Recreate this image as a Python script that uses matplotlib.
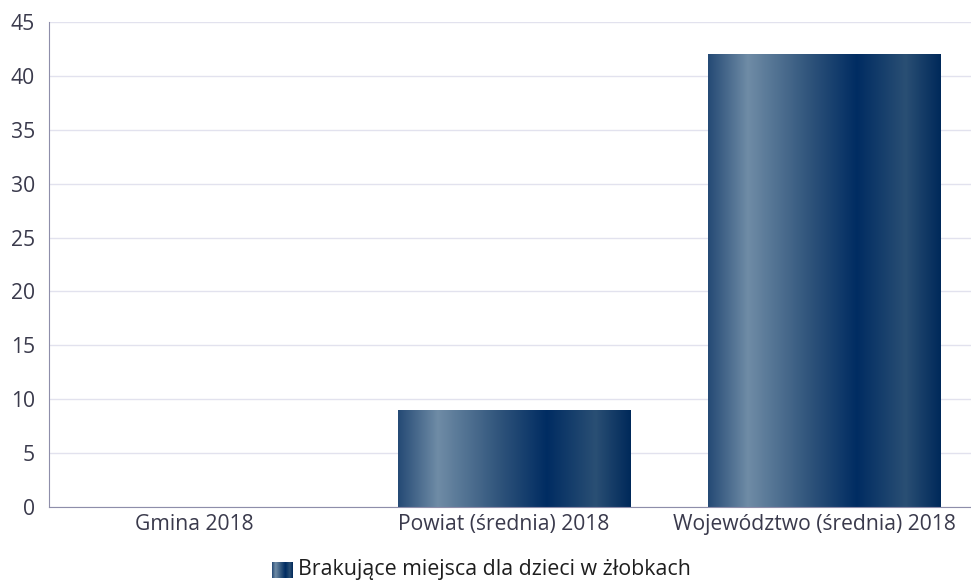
import numpy as np
import matplotlib.pyplot as plt
from matplotlib.colors import LinearSegmentedColormap

categories = ['Gmina 2018', 'Powiat (średnia) 2018', 'Województwo (średnia) 2018']
values = [0, 9, 42]
series_name = 'Brakujące miejsca dla dzieci w żłobkach'
yticks = [0, 5, 10, 15, 20, 25, 30, 35, 40, 45]

plt.rcParams['font.family'] = ['Open Sans', 'DejaVu Sans']

# bar gradient (left to right)
grad = LinearSegmentedColormap.from_list('bar', [
    (0.0, '#254a75'), (0.17, '#6f8ca6'), (0.45, '#2c5179'),
    (0.64, '#002c62'), (0.85, '#2a4f74'), (1.0, '#00295a')])
strip = np.linspace(0, 1, 256).reshape(1, -1)

fig = plt.figure(figsize=(9.71, 5.84), dpi=100)
ax = fig.add_axes([49/971, 77/584, 930/971, 485/584])

width = 0.75
x = np.arange(len(categories))
bars = ax.bar(x, values, width=width, color='none', zorder=2)
for b in bars:
    h = b.get_height()
    if h <= 0:
        continue
    x0 = b.get_x()
    ax.imshow(strip, cmap=grad, aspect='auto', zorder=2,
              extent=[x0, x0 + b.get_width(), 0, h])

ax.set_xlim(-0.5, len(categories) - 0.5)
ax.set_ylim(0, 45)
ax.set_yticks(yticks)
# labels sit a little left of the bar centres in the original
ax.set_xticks(x - 0.032)
ax.set_xticklabels(categories)
ax.grid(axis='y', color='#e2e2ee', linewidth=1, zorder=0)
ax.set_axisbelow(True)
for s in ['top', 'right']:
    ax.spines[s].set_visible(False)
ax.spines['left'].set_color('#8e8eaa')
ax.spines['bottom'].set_color('#8e8eaa')
ax.tick_params(axis='both', length=0, labelsize=15.2, colors='#3a3a4c')
ax.tick_params(axis='y', pad=10)
ax.tick_params(axis='x', pad=5)

# legend: gradient swatch + label
lax = fig.add_axes([272/971, (584-578)/584, 21/971, 16/584])
lax.imshow(strip, cmap=grad, aspect='auto')
lax.axis('off')
fig.text(298/971, (584-570)/584, series_name, fontsize=15.4, color='#1e1e1e', va='center', ha='left')

fig.savefig('out.png', dpi=100)
